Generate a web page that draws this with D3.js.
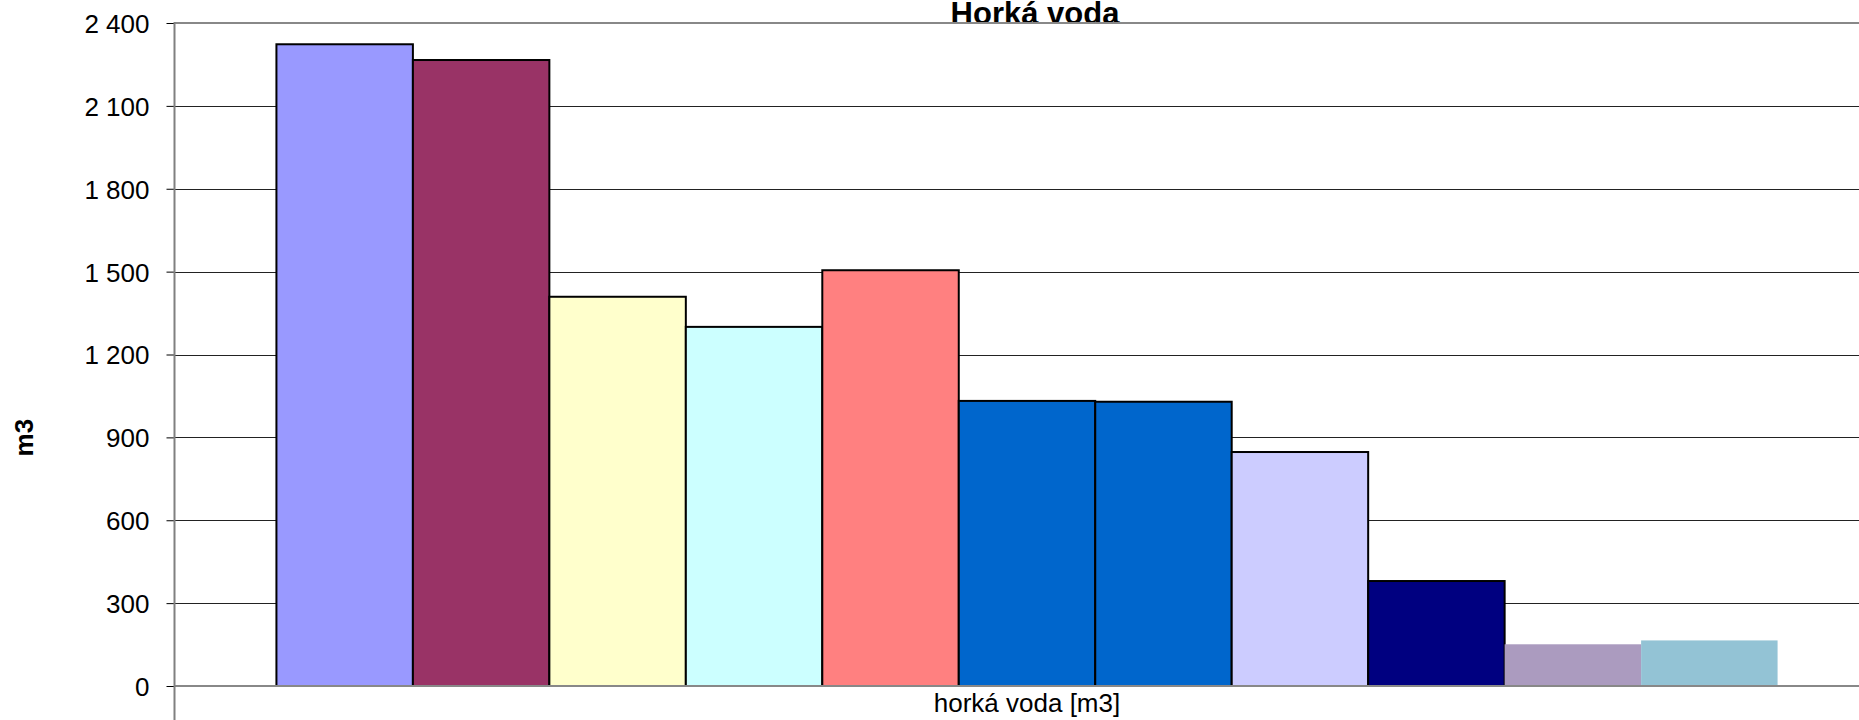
<!DOCTYPE html>
<html>
<head>
<meta charset="utf-8">
<script src="https://cdn.jsdelivr.net/npm/d3@7/dist/d3.min.js"></script>
<style>
  html, body { margin: 0; padding: 0; background: #fff; }
  svg { display: block; }
  text { font-family: "Liberation Sans", Arial, sans-serif; fill: #000; }
</style>
</head>
<body>
<svg id="chart" width="1859" height="720"></svg>
<script>
// ---- data ----
const category = ["horká voda [m3]"];
const seriesNames = ["S1","S2","S3","S4","S5","S6","S7","S8","S9","S10","S11"];
const seriesValues = [2323, 2266, 1409, 1300, 1505, 1032, 1029, 847, 380, 151, 165];
const seriesColors = ["#9999FF","#993366","#FFFFCC","#CCFFFF","#FF8080","#0066CC","#0066CC","#CCCCFF","#000080","#AB9BBF","#93C3D5"];
const seriesOutlined = [true,true,true,true,true,true,true,true,true,false,false];
const yTicks = [0, 300, 600, 900, 1200, 1500, 1800, 2100, 2400];
const titleText = "Horká voda";
const yTitle = "m3";

// ---- layout ----
const W = 1859, H = 720;
const plotLeft = 174.5, plotRight = 1879.5, plotTop = 23, plotBottom = 686;

const svg = d3.select("#chart");

const y = d3.scaleLinear().domain([0, 2400]).range([plotBottom, plotTop]);
const x0 = d3.scaleBand().domain(category).range([plotLeft, plotRight]).paddingInner(0).paddingOuter(0.0679);
const x1 = d3.scaleBand().domain(seriesNames).range([0, x0.bandwidth()]).padding(0);

const fmt = v => d3.format(",")(v).replace(/,/g, " ");

// title (drawn first so plot border sits over it)
svg.append("text")
  .attr("x", 1035).attr("y", 24)
  .attr("text-anchor", "middle")
  .style("font-size", "31px").style("font-weight", "bold")
  .text(titleText);

// gridlines
svg.append("g").selectAll("line")
  .data(yTicks.filter(t => t > 0 && t < 2400))
  .join("line")
  .attr("x1", plotLeft).attr("x2", W)
  .attr("y1", d => Math.round(y(d)) + 0.5).attr("y2", d => Math.round(y(d)) + 0.5)
  .attr("stroke", "#222").attr("stroke-width", 1);

// top border
svg.append("line")
  .attr("x1", plotLeft).attr("x2", W)
  .attr("y1", y(2400)).attr("y2", y(2400))
  .attr("stroke", "#888").attr("stroke-width", 2);

// bars
const g = svg.append("g").attr("transform", `translate(${x0(category[0])},0)`);
g.selectAll("rect")
  .data(seriesValues.map((v, i) => ({v, i})))
  .join("rect")
  .attr("x", d => x1(seriesNames[d.i]))
  .attr("width", x1.bandwidth())
  .attr("y", d => y(d.v))
  .attr("height", d => y(0) - y(d.v))
  .attr("fill", d => seriesColors[d.i])
  .attr("stroke", d => seriesOutlined[d.i] ? "#000" : "none")
  .attr("stroke-width", 2);

// zero line
svg.append("line")
  .attr("x1", plotLeft).attr("x2", W)
  .attr("y1", y(0)).attr("y2", y(0))
  .attr("stroke", "#888").attr("stroke-width", 2);

// y axis
const yAxis = d3.axisLeft(y).tickValues(yTicks).tickFormat(fmt).tickSize(8).tickPadding(17);
const ya = svg.append("g").attr("transform", `translate(${plotLeft},0)`).call(yAxis);
ya.select(".domain").remove();
ya.selectAll(".tick line").attr("stroke", "#000").attr("stroke-width", 1);
ya.selectAll(".tick text")
  .style("font-size", "26px")
  .style("font-family", "\"Liberation Sans\", Arial, sans-serif")
  .attr("fill", "#000")
  .attr("dy", "0.36em");

// left axis line extending to bottom
svg.append("line")
  .attr("x1", plotLeft).attr("x2", plotLeft)
  .attr("y1", plotTop - 1).attr("y2", H)
  .attr("stroke", "#808080").attr("stroke-width", 2);

// x category label
svg.append("text")
  .attr("x", x0(category[0]) + x0.bandwidth() / 2)
  .attr("y", 711.5)
  .attr("text-anchor", "middle")
  .style("font-size", "26px")
  .text(category[0]);

// y title
svg.append("text")
  .attr("transform", "translate(33,437.7) rotate(-90)")
  .attr("text-anchor", "middle")
  .style("font-size", "26px").style("font-weight", "bold")
  .text(yTitle);
</script>
</body>
</html>
